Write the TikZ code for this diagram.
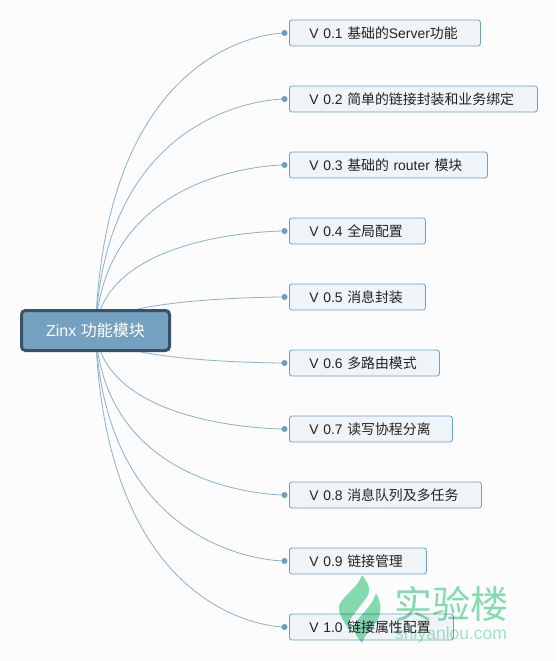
\documentclass[tikz,border=0pt]{standalone}
\usepackage{fontspec}
\setmainfont{Liberation Sans}
\newfontfamily\cjk{Noto Sans CJK SC}
\usetikzlibrary{backgrounds}
\definecolor{bgc}{HTML}{FCFCFC}
\definecolor{linec}{HTML}{8AB0CA}
\definecolor{dotc}{HTML}{6F9DBF}
\definecolor{boxf}{HTML}{EFF4F8}
\definecolor{boxd}{HTML}{6FA0C4}
\definecolor{rootf}{HTML}{73A1BF}
\definecolor{rootd}{HTML}{3B5166}
\definecolor{wm}{HTML}{86DDB2}
\definecolor{wmb}{HTML}{A4E6C6}
\definecolor{txt}{HTML}{222222}
\newcommand{\lift}[2][1pt]{\raisebox{#1}{#2}}
\tikzset{
  vbox/.style={draw=boxd,fill=boxf,line width=0.8pt,rounded corners=2.5pt,anchor=west,
    text=txt,font=\fontsize{13.9}{15}\selectfont,inner xsep=20pt,inner ysep=0pt,
    minimum height=26pt,text width=#1,align=left},
  vdot/.style={circle,fill=dotc,inner sep=0pt,minimum size=6pt},
  link/.style={draw=linec,line width=0.8pt},
  wmtext/.style={inner sep=0pt,anchor=west}
}
\begin{document}
\begin{tikzpicture}[x=1pt,y=-1pt]
\useasboundingbox (0,0) rectangle (558,661);
\node[draw=rootd,fill=rootf,line width=3pt,rounded corners=4pt,minimum width=148pt,minimum height=40pt,
  text=white,font=\fontsize{16}{18}\selectfont,inner sep=0pt] (root) at (95.5,330.5) {\lift[2pt]{Zinx {\cjk 功能模块}}\hspace{4pt}};
\node[vbox=151pt] (v1) at (289,33) {\lift{V 0.1 {\cjk 基础的}Server{\cjk 功能}}};
\node[vbox=208pt] (v2) at (289,99) {\lift{V 0.2 {\cjk 简单的链接封装和业务绑定}}};
\node[vbox=158pt] (v3) at (289,165) {\lift{V 0.3 {\cjk 基础的} router {\cjk 模块}}};
\node[vbox=96pt] (v4) at (289,231) {\lift{V 0.4 {\cjk 全局配置}}};
\node[vbox=96pt] (v5) at (289,297) {\lift{V 0.5 {\cjk 消息封装}}};
\node[vbox=110pt] (v6) at (289,363) {\lift{V 0.6 {\cjk 多路由模式}}};
\node[vbox=123pt] (v7) at (289,429) {\lift{V 0.7 {\cjk 读写协程分离}}};
\node[vbox=152pt] (v8) at (289,495) {\lift{V 0.8 {\cjk 消息队列及多任务}}};
\node[vbox=97pt] (v9) at (289,561) {\lift{V 0.9 {\cjk 链接管理}}};
\node[vbox=124pt] (v10) at (289,627) {\lift{V 1.0 {\cjk 链接属性配置}}};
\foreach \i/\y in {1/33,2/99,3/165,4/231,5/297,6/363,7/429,8/495,9/561,10/627}{
  \node[vdot] (d\i) at (284.5,\y) {};
}
\begin{pgfonlayer}{background}
\fill[bgc] (0,0) rectangle (558,661);
\foreach \i/\y in {1/33,2/99,3/165,4/231,5/297,6/363,7/429,8/495,9/561,10/627}{
  \draw[link] (root.center) .. controls (105,\y) and (284,\y) .. (d\i.center);
}
\end{pgfonlayer}
\begin{scope}[blend mode=multiply]
\fill[wm] (362,575) .. controls (370,585) and (372,592) .. (364,601)
  -- (351,618) .. controls (349,622) and (349,626) .. (350,630)
  .. controls (343,622) and (338,612) .. (339,606)
  .. controls (342,596) and (358,588) .. (362,575) -- cycle;
\fill[wm] (376,593) .. controls (384,608) and (380,618) .. (373,626)
  .. controls (368,632) and (364,637) .. (362,643) .. controls (358,638) and (355,634) .. (353,628)
  .. controls (354,620) and (372,608) .. (376,593) -- cycle;
\node[wmtext,text=wm,font=\cjk\fontsize{38}{40}\selectfont] (wm1) at (394,604) {实验楼};
\node[wmtext,text=wmb,font=\fontsize{17.5}{20}\selectfont] (wm2) at (395,635) {shiyanlou.com};
\end{scope}
\end{tikzpicture}
\end{document}
